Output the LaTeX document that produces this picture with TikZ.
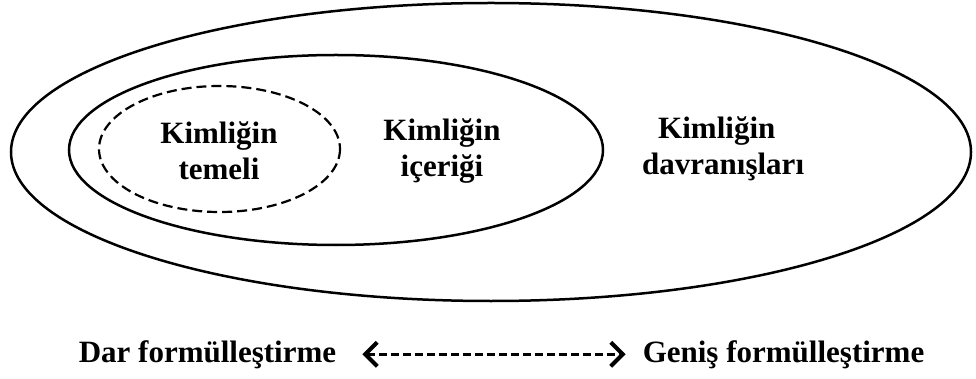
\documentclass[tikz,border=0pt]{standalone}
\usepackage{fontspec}
\setmainfont{Liberation Serif}
\usetikzlibrary{arrows.meta}
\tikzset{
  ring/.style={draw, line width=2.5pt},
  dashring/.style={draw, line width=2.2pt, dash pattern=on 10pt off 5pt},
  ringtext/.style={font=\fontsize{31}{36}\selectfont\bfseries, align=center, inner sep=0pt},
  endtext/.style={font=\fontsize{31}{36}\selectfont\bfseries, inner sep=0pt},
  barb/.tip={Straight Barb[length=12pt,width=24pt,line width=4pt]},
  rangearrow/.style={line width=3.4pt, dash pattern=on 8pt off 4pt, barb-barb}
}
\begin{document}
\begin{tikzpicture}[x=1pt,y=-1pt]
  \useasboundingbox (0,0) rectangle (976,379);
  % nested ellipses
  \draw[ring] (491,152) ellipse [x radius=480, y radius=149];
  \draw[ring] (336,150) ellipse [x radius=267, y radius=95];
  \draw[dashring] (219.5,149) ellipse [x radius=120.5, y radius=63];
  % texts inside the rings
  \node[ringtext] (temel) at (219,151) {Kimliğin\\temeli};
  \node[ringtext] (icerik) at (442,151) {Kimliğin\\içeriği};
  \node[ringtext, align=left, anchor=west] (davranis) at (642,149) {\hspace*{16pt}Kimliğin\\davranışları};
  % narrow-to-broad scale below
  \node[endtext, anchor=base] (dar) at (207.5,362) {Dar formülleştirme};
  \node[endtext, anchor=base] (genis) at (783.5,362) {Geniş formülleştirme};
  \draw[rangearrow, shorten <=26pt, shorten >=17pt] (dar.east) -- (genis.west);
\end{tikzpicture}
\end{document}
